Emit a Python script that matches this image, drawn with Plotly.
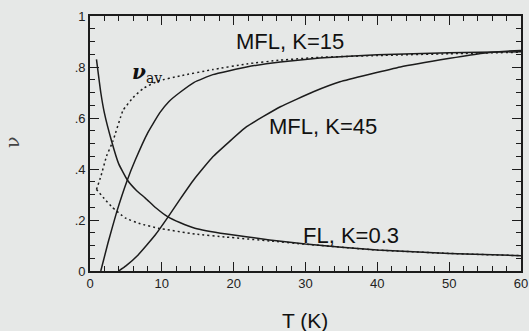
import plotly.graph_objects as go

# Temperature grids (K) and fractions nu for each curve
t_fl = [0.9, 1.5, 2.0, 3.0, 4.0, 5.2, 6.5, 7.7, 9.2, 10.8, 12.5, 14.6, 19, 25, 30, 40, 50, 60]
nu_fl = [0.83, 0.70, 0.62, 0.51, 0.42, 0.357, 0.315, 0.286, 0.247, 0.213, 0.19, 0.168, 0.145, 0.122, 0.106, 0.082, 0.069, 0.06]

t_fl_av = [0.9, 2.1, 3.1, 4.9, 7.0, 9.5, 14.6, 19, 25, 30, 40, 50, 60]
nu_fl_av = [0.32, 0.28, 0.25, 0.208, 0.185, 0.168, 0.145, 0.133, 0.118, 0.105, 0.082, 0.069, 0.06]

t_mfl15 = [1.5, 2.5, 3.7, 5.2, 6.3, 8.0, 9.7, 11.0, 12.5, 14.5, 17.1, 21.8, 26.5, 32, 40, 50, 60]
nu_mfl15 = [0.0, 0.11, 0.23, 0.357, 0.435, 0.54, 0.62, 0.665, 0.70, 0.74, 0.77, 0.80, 0.82, 0.835, 0.848, 0.856, 0.86]

t_mfl15_av = [0.9, 1.5, 2.3, 3.2, 4.6, 6.0, 7.4, 9.5, 12.5, 17.1, 21.8, 26.5, 32, 40, 50, 60]
nu_mfl15_av = [0.32, 0.37, 0.45, 0.51, 0.63, 0.68, 0.716, 0.745, 0.765, 0.79, 0.812, 0.827, 0.838, 0.845, 0.852, 0.858]

t_mfl45 = [4.0, 5.0, 6.7, 9.05, 10.9, 12.5, 14.5, 17.1, 21.8, 26.5, 31.1, 34.8, 43.2, 50.1, 54.7, 58, 60]
nu_mfl45 = [0.0, 0.02, 0.063, 0.14, 0.213, 0.28, 0.36, 0.448, 0.566, 0.644, 0.703, 0.742, 0.80, 0.834, 0.854, 0.862, 0.865]

x_ticks = [0, 10, 20, 30, 40, 50, 60]
y_ticks = [0, 0.2, 0.4, 0.6, 0.8, 1.0]
y_ticktext = ["0", ".2", ".4", ".6", ".8", "1"]

INK = "#1c1c1c"
BG = "#e6e8e7"
FONT = "Liberation Sans, Arial, sans-serif"

fig = go.Figure()

def add_curve(t, nu, dash):
    fig.add_trace(go.Scatter(
        x=t, y=nu, mode="lines",
        line=dict(color=INK, width=1.5, dash=dash, shape="spline", smoothing=0.35),
        showlegend=False, hoverinfo="skip",
    ))

add_curve(t_fl, nu_fl, "solid")
add_curve(t_fl_av, nu_fl_av, "2px,3px")
add_curve(t_mfl15, nu_mfl15, "solid")
add_curve(t_mfl15_av, nu_mfl15_av, "2px,3px")
add_curve(t_mfl45, nu_mfl45, "solid")

axis_common = dict(
    showgrid=False, zeroline=False, automargin=False,
    showline=True, linecolor=INK, linewidth=1.6,
    mirror="allticks", ticks="inside", ticklen=9, tickwidth=1.3, tickcolor=INK,
    tickfont=dict(family=FONT, size=13, color="#222"),
)

fig.update_xaxes(
    range=[0, 60], tickvals=x_ticks,
    minor=dict(dtick=2, ticks="inside", ticklen=5, tickwidth=1.2, tickcolor=INK),
    **axis_common,
)
fig.update_yaxes(
    range=[0, 1], tickvals=y_ticks, ticktext=y_ticktext,
    minor=dict(dtick=0.05, ticks="inside", ticklen=5, tickwidth=1.2, tickcolor=INK),
    **axis_common,
)

label_font = dict(family=FONT, size=22, color="#111")
annotations = [
    dict(x=27.9, y=0.90, text="MFL, K=15"),
    dict(x=32.5, y=0.565, text="MFL, K=45"),
    dict(x=36.3, y=0.141, text="FL, K=0.3"),
]
for a in annotations:
    fig.add_annotation(xref="x", yref="y", showarrow=False, font=label_font,
                       xanchor="center", yanchor="middle", **a)

fig.add_annotation(xref="x", yref="y", x=8.0, y=0.775, showarrow=False,
                   text="<i><b>ν</b></i><sub>av</sub>",
                   font=dict(family="DejaVu Serif, serif", size=20, color="#111"),
                   xanchor="center", yanchor="middle")

# axis titles
fig.add_annotation(xref="paper", yref="paper", x=(12 - 90) / 431, y=(271 - 142) / 255,
                   showarrow=False, text="ν", textangle=-90,
                   font=dict(family="DejaVu Serif, serif", size=19, color="#444"),
                   xanchor="center", yanchor="middle")
fig.add_annotation(xref="paper", yref="paper", x=(305 - 90) / 431, y=(271 - 320) / 255,
                   showarrow=False, text="T (K)",
                   font=dict(family=FONT, size=21, color="#111"),
                   xanchor="center", yanchor="middle")

fig.update_layout(
    width=529, height=331,
    margin=dict(l=90, r=8, t=16, b=60),
    paper_bgcolor=BG, plot_bgcolor=BG,
)

fig.write_html("out.html")
